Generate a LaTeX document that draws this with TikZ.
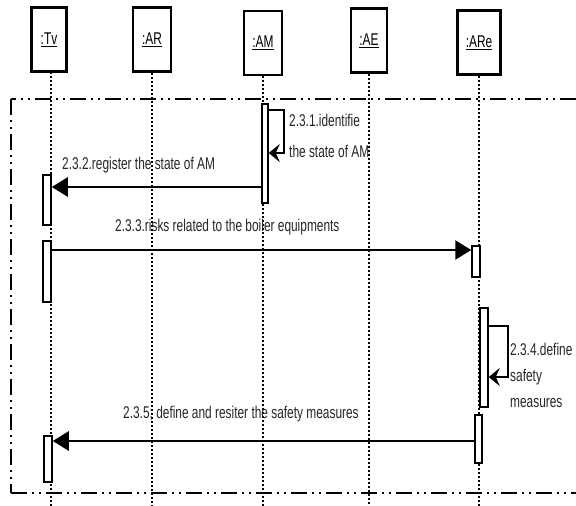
\documentclass[tikz,border=0pt]{standalone}
\usepackage{fontspec}
\newfontfamily\diafont[FakeStretch=0.7]{Liberation Sans}
\usepackage{tikz}
\usetikzlibrary{arrows.meta,positioning,calc}
\tikzset{
  obj/.style={draw,line width=2.5pt,minimum height=64pt,inner sep=0pt,font=\diafont\fontsize{17}{20}\selectfont},
  act/.style={draw,fill=white,line width=1.5pt,minimum width=8pt,inner sep=0pt},
  life/.style={line width=1.5pt,dash pattern=on 2pt off 2pt},
  lbl/.style={font=\diafont\fontsize{17}{26}\selectfont,text=black!85,inner sep=0pt,align=left},
  msg/.style={-{Triangle[length=16pt,width=19pt]},line width=2.5pt},
  selfmsg/.style={-{Stealth[length=11pt,width=18pt,inset=4pt]},line width=2pt},
  frame/.style={line width=2.5pt,dash pattern=on 16pt off 5pt on 2pt off 5pt on 2pt off 5pt},
}

\begin{document}
\begin{tikzpicture}[x=1pt,y=-1pt]
\useasboundingbox (0,0) rectangle (576,506);
% objects
\node[obj,minimum width=35pt] (tv) at (49,39.5) {\underline{:Tv}};
\node[obj,minimum width=38pt] (ar) at (152,39.5) {\underline{:AR}};
\node[obj,minimum width=38pt] (am) at (263,43) {\underline{:AM}};
\node[obj,minimum width=36pt] (ae) at (369,40.5) {\underline{:AE}};
\node[obj,minimum width=43pt] (are) at (479,42.5) {\underline{:ARe}};
% frame
\draw[frame] (576,99) -- (11,99);
\draw[frame,line width=2pt] (11,99) -- (11,493);
\draw[frame] (11,493) -- (576,493);
% lifelines
\draw[life] (51,72) -- (51,506);
\foreach \o in {ar,am,ae,are} \draw[life] (\o.south) -- (\o.south |- 0,506);
% activations
\node[act,minimum height=50pt] (tvA1) at (47,200) {};
\node[act,minimum height=61pt] (tvA2) at (47,271.5) {};
\node[act,minimum height=46pt] (tvA3) at (48,459) {};
\node[act,minimum width=6pt,minimum height=99pt] (amA) at (265,153.5) {};
\node[act,minimum height=31pt] (areA1) at (476,261.5) {};
\node[act,minimum height=99pt] (areA2) at (484,357.5) {};
\node[act,minimum width=7pt,minimum height=48pt] (areA3) at (478.5,439) {};
% messages
\draw[selfmsg] (amA.east |- 0,110) -- ++(15,0) |- (amA.east |- 0,153);
\node[lbl,anchor=west] (l231) at (289,135.5) {2.3.1.identifie\\[5pt]the state of AM};
\draw[msg] (amA.west |- 0,187) -- (tvA1.east |- 0,187);
\node[lbl,anchor=west] (l232) at (62,165) {2.3.2.register the state of AM};
\draw[msg] (tvA2.east |- 0,250) -- (areA1.west |- 0,250);
\node[lbl,anchor=west] (l233) at (115,227) {2.3.3.risks related to the boiler equipments};
\draw[selfmsg] (areA2.east |- 0,326) -- ++(19,0) |- (areA2.east |- 0,377);
\node[lbl,anchor=west] (l234) at (510,375) {2.3.4.define\\safety\\measures};
\draw[msg] (areA3.west |- 0,441) -- (tvA3.east |- 0,441);
\node[lbl,anchor=west] (l235) at (123,414) {2.3.5; define and resiter the safety measures};
\end{tikzpicture}
\end{document}
